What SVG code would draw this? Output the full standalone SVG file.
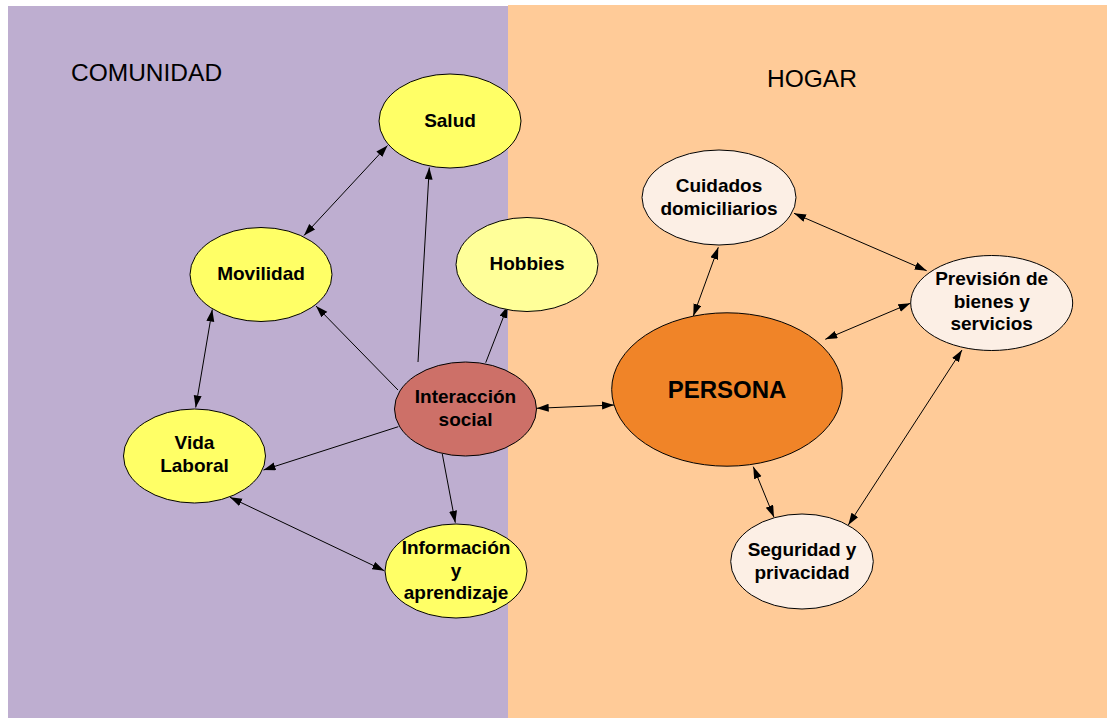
<svg xmlns="http://www.w3.org/2000/svg" width="1107" height="718" viewBox="0 0 1107 718">
  <style>
    .bg-com { fill: #BEAED0; }
    .bg-hog { fill: #FFCB98; }
    .area { font-family: "Liberation Sans", Arial, sans-serif; font-size: 24.5px; fill: #000; }
    ellipse { stroke: #000; stroke-width: 1; }
    .yellow { fill: #FFFF66; }
    .pale { fill: #FFFF99; }
    .rose { fill: #CD7068; }
    .orange { fill: #F08428; }
    .cream { fill: #FCEFE5; }
    .lbl { font-family: "Liberation Sans", Arial, sans-serif; font-size: 19px; font-weight: bold; fill: #000; text-anchor: middle; }
    .big { font-size: 24px; }
    .conn line { stroke: #000; stroke-width: 1; fill: none; }
    .one { marker-end: url(#arrow); }
    .two { marker-start: url(#arrow); marker-end: url(#arrow); }
  </style>
  <defs>
    <marker id="arrow" markerUnits="userSpaceOnUse" markerWidth="13" markerHeight="9" refX="12" refY="4" orient="auto-start-reverse">
      <path d="M0,0 L12,4 L0,8 Z" fill="#000"/>
    </marker>
  </defs>

  <!-- two areas -->
  <rect class="bg-com" x="8" y="6" width="500" height="712"/>
  <rect class="bg-hog" x="508" y="5" width="599" height="713"/>
  <text class="area" x="71" y="81">COMUNIDAD</text>
  <text class="area" x="767" y="87">HOGAR</text>

  <!-- connectors -->
  <g id="connectors" class="conn">
    <line class="two" x1="304" y1="235.5" x2="387.5" y2="145.5"/>
    <line class="one" x1="418" y1="362" x2="429.3" y2="167.5"/>
    <line class="one" x1="398" y1="390" x2="316" y2="306"/>
    <line class="one" x1="485.7" y1="362.7" x2="507.7" y2="306"/>
    <line class="two" x1="195.7" y1="407.5" x2="212.3" y2="309.5"/>
    <line class="one" x1="398.3" y1="426.7" x2="263.5" y2="470"/>
    <line class="one" x1="442.3" y1="454" x2="455.3" y2="522.7"/>
    <line class="two" x1="230" y1="497.3" x2="384.3" y2="570.7"/>
    <line class="two" x1="536.7" y1="408.3" x2="614" y2="405"/>
    <line class="two" x1="693.3" y1="316" x2="718.3" y2="247.3"/>
    <line class="two" x1="794" y1="213.3" x2="926.7" y2="270.7"/>
    <line class="two" x1="825.3" y1="339.3" x2="910.3" y2="303.3"/>
    <line class="two" x1="753.3" y1="466.7" x2="774" y2="517.3"/>
    <line class="two" x1="962" y1="350" x2="848.3" y2="525"/>
  </g>

  <!-- nodes -->
  <g id="salud">
    <ellipse class="yellow" cx="450" cy="121" rx="71" ry="47"/>
    <text class="lbl" x="450" y="127">Salud</text>
  </g>
  <g id="movilidad">
    <ellipse class="yellow" cx="261" cy="274.5" rx="71" ry="47"/>
    <text class="lbl" x="261" y="280">Movilidad</text>
  </g>
  <g id="hobbies">
    <ellipse class="pale" cx="527" cy="264.5" rx="71" ry="47"/>
    <text class="lbl" x="527" y="270">Hobbies</text>
  </g>
  <g id="interaccion">
    <ellipse class="rose" cx="465.5" cy="409" rx="71" ry="47"/>
    <text class="lbl" x="465.5" y="403">Interacción</text>
    <text class="lbl" x="465.5" y="425.5">social</text>
  </g>
  <g id="vida-laboral">
    <ellipse class="yellow" cx="194.5" cy="456" rx="71" ry="47"/>
    <text class="lbl" x="194.5" y="449">Vida</text>
    <text class="lbl" x="194.5" y="472">Laboral</text>
  </g>
  <g id="informacion">
    <ellipse class="yellow" cx="456" cy="571" rx="71" ry="47"/>
    <text class="lbl" x="456" y="554">Información</text>
    <text class="lbl" x="456" y="576.5">y</text>
    <text class="lbl" x="456" y="598.5">aprendizaje</text>
  </g>
  <g id="persona">
    <ellipse class="orange" cx="727" cy="389.5" rx="115.3" ry="76.7"/>
    <text class="lbl big" x="727" y="397.5">PERSONA</text>
  </g>
  <g id="cuidados">
    <ellipse class="cream" cx="719" cy="197.5" rx="77" ry="47.5"/>
    <text class="lbl" x="719" y="192">Cuidados</text>
    <text class="lbl" x="719" y="214.5">domiciliarios</text>
  </g>
  <g id="prevision">
    <ellipse class="cream" cx="991.7" cy="303" rx="81" ry="47.5"/>
    <text class="lbl" x="991.7" y="285">Previsión de</text>
    <text class="lbl" x="991.7" y="307.5">bienes y</text>
    <text class="lbl" x="991.7" y="330">servicios</text>
  </g>
  <g id="seguridad">
    <ellipse class="cream" cx="802" cy="561.5" rx="71.3" ry="47.5"/>
    <text class="lbl" x="802" y="556">Seguridad y</text>
    <text class="lbl" x="802" y="578.5">privacidad</text>
  </g>
</svg>
